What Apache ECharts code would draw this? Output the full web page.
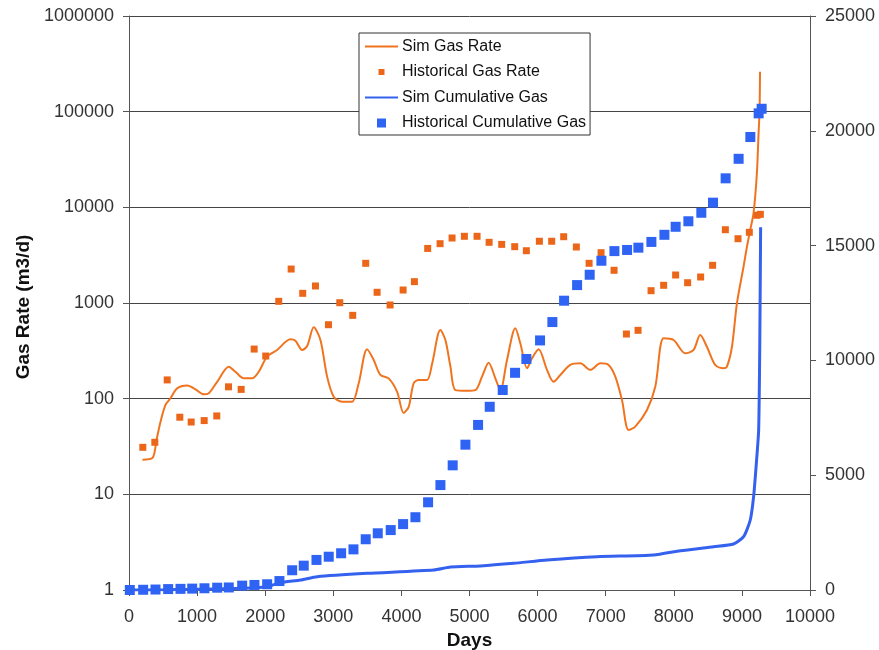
<!DOCTYPE html>
<html>
<head>
<meta charset="utf-8">
<script src="https://cdn.jsdelivr.net/npm/echarts@6/dist/echarts.min.js"></script>
<style>
  html, body { margin: 0; padding: 0; background: #fff; }
  #chart { width: 879px; height: 650px; }
</style>
</head>
<body>
<div id="chart"></div>
<script>
// Simulated gas rate (m3/d) vs days
const simRateDays = [198, 345, 404, 462, 536, 609, 707, 854, 976, 1098, 1171, 1295, 1465, 1563, 1685, 1808, 1905, 2028, 2175, 2370, 2444, 2542, 2616, 2713, 2811, 2909, 3006, 3129, 3276, 3373, 3496, 3593, 3691, 3813, 3937, 4033, 4107, 4180, 4254, 4377, 4450, 4572, 4646, 4720, 4793, 4964, 5086, 5184, 5281, 5380, 5453, 5551, 5673, 5746, 5845, 5918, 6015, 6138, 6235, 6333, 6480, 6627, 6774, 6921, 7042, 7141, 7239, 7336, 7434, 7606, 7728, 7850, 7997, 8168, 8290, 8388, 8486, 8608, 8730, 8780, 8854, 8927, 9024, 9074, 9122, 9171, 9220, 9245, 9259, 9266];
const simRate = [23, 24, 37, 57, 86, 101, 128, 137, 125, 111, 114, 150, 216, 191, 163, 163, 191, 275, 323, 417, 403, 323, 355, 557, 410, 170, 105, 93, 93, 145, 328, 254, 177, 163, 118, 71, 82, 145, 157, 157, 230, 522, 410, 216, 123, 121, 123, 170, 238, 163, 123, 254, 544, 379, 208, 264, 328, 200, 150, 177, 225, 234, 200, 234, 225, 170, 97, 47, 51, 76, 133, 428, 410, 298, 323, 463, 349, 225, 208, 216, 349, 993, 2394, 3870, 5800, 8700, 22700, 60000, 100000, 262000];

// Historical gas rate (m3/d)
const histRateDays = [203, 379, 561, 746, 913, 1104, 1289, 1461, 1647, 1838, 2008, 2199, 2381, 2551, 2738, 2929, 3095, 3285, 3476, 3643, 3834, 4025, 4191, 4386, 4568, 4744, 4925, 5111, 5288, 5473, 5664, 5835, 6026, 6207, 6383, 6569, 6756, 6932, 7123, 7304, 7475, 7666, 7851, 8027, 8203, 8394, 8570, 8757, 8943, 9109, 9222, 9271];
const histRate = [31, 35, 157, 64, 57, 59, 66, 133, 125, 330, 279, 1041, 2264, 1262, 1506, 593, 1007, 743, 2600, 1294, 953, 1367, 1671, 3718, 4170, 4780, 4980, 4980, 4310, 4100, 3880, 3520, 4420, 4420, 4930, 3850, 2600, 3357, 2197, 474, 518, 1345, 1531, 1962, 1630, 1870, 2478, 5835, 4700, 5480, 8260, 8450];

// Simulated cumulative gas (right axis)
const simCumDays = [0, 500, 1000, 1500, 2000, 2224, 2518, 2763, 3497, 4475, 4720, 5160, 5649, 6139, 6873, 7704, 8096, 8585, 8878, 9025, 9123, 9172, 9212, 9246, 9262, 9275];
const simCum = [0, 10, 30, 60, 130, 318, 435, 579, 727, 871, 1000, 1050, 1163, 1307, 1450, 1524, 1712, 1886, 2003, 2321, 3049, 4063, 5518, 6968, 10500, 15800];

// Historical cumulative gas (right axis)
const histCumDays = [12, 208, 389, 575, 756, 928, 1108, 1295, 1465, 1662, 1842, 2029, 2209, 2396, 2566, 2753, 2933, 3115, 3296, 3476, 3653, 3843, 4025, 4206, 4392, 4573, 4753, 4940, 5126, 5297, 5488, 5669, 5835, 6036, 6217, 6389, 6580, 6765, 6937, 7128, 7314, 7480, 7671, 7862, 8027, 8214, 8404, 8576, 8761, 8952, 9124, 9246, 9290];
const histCum = [0, 10, 20, 40, 50, 60, 75, 100, 110, 190, 220, 250, 390, 860, 1060, 1310, 1450, 1600, 1770, 2210, 2470, 2610, 2870, 3170, 3820, 4570, 5430, 6330, 7190, 7980, 8710, 9460, 10060, 10870, 11670, 12600, 13280, 13730, 14340, 14760, 14810, 14910, 15160, 15470, 15820, 16060, 16430, 16870, 17930, 18780, 19730, 20760, 20960];

const seriesNames = ['Sim Gas Rate', 'Historical Gas Rate', 'Sim Cumulative Gas', 'Historical Cumulative Gas'];

const FONT = "'Liberation Sans', Arial, sans-serif";
const ORANGE_LINE = '#F0741F';
const ORANGE_PT = '#EC661A';
const BLUE_LINE = '#3461EE';
const BLUE_PT = '#2F63F4';

// Legend glyphs: a 33x10 box holding a plain stroke or a centred square
const ICON_LINE = 'path://M0,0M0,4H33V6H0ZM33,10';
const ICON_SMALL_SQUARE = 'path://M0,0M13.5,2H19.5V8H13.5ZM33,10';
const ICON_BIG_SQUARE = 'path://M0,0M12,0.5H21V9.5H12ZM33,10';

const pairs = (xs, ys) => xs.map((x, i) => [x, ys[i]]);
const plain = v => String(Math.round(v));

const chart = echarts.init(document.getElementById('chart'), null, { renderer: 'canvas' });

chart.setOption({
  backgroundColor: '#ffffff',
  animation: false,
  textStyle: { fontFamily: FONT },
  grid: { left: 129, right: 69, top: 16, bottom: 60, containLabel: false, outerBoundsMode: 'none' },
  legend: {
    orient: 'vertical',
    left: 359,
    top: 33,
    padding: [4.5, 4, 3, 6],
    itemWidth: 33,
    itemHeight: 10,
    itemGap: 7.5,
    borderColor: '#333',
    borderWidth: 1,
    backgroundColor: '#fff',
    selectedMode: false,
    symbolKeepAspect: true,
    textStyle: { fontSize: 16, color: '#111', fontFamily: FONT, lineHeight: 18, padding: [0, 0, 0, -1] },
    data: [
      { name: seriesNames[0], icon: ICON_LINE },
      { name: seriesNames[1], icon: ICON_SMALL_SQUARE },
      { name: seriesNames[2], icon: ICON_LINE },
      { name: seriesNames[3], icon: ICON_BIG_SQUARE }
    ]
  },
  xAxis: {
    type: 'value',
    min: 0,
    max: 10000,
    interval: 1000,
    name: 'Days',
    nameLocation: 'middle',
    nameGap: 37,
    nameTextStyle: { fontSize: 19, fontWeight: 'bold', color: '#111', fontFamily: FONT },
    axisLine: { show: true, lineStyle: { color: '#555', width: 1 } },
    axisTick: { show: true, inside: false, length: 6, lineStyle: { color: '#555' } },
    axisLabel: { fontSize: 18, color: '#333', margin: 18, formatter: plain },
    splitLine: { show: false }
  },
  yAxis: [
    {
      type: 'log',
      logBase: 10,
      min: 1,
      max: 1000000,
      name: 'Gas Rate (m3/d)',
      nameLocation: 'middle',
      nameRotate: 90,
      nameGap: 96,
      nameTextStyle: { fontSize: 19, fontWeight: 'bold', color: '#111', fontFamily: FONT, padding: [0, 8, 0, 0] },
      axisLine: { show: true, lineStyle: { color: '#555', width: 1 } },
      axisTick: { show: true, inside: false, length: 6, lineStyle: { color: '#555' } },
      axisLabel: { fontSize: 18, color: '#333', margin: 15, formatter: plain },
      splitLine: { show: true, lineStyle: { color: '#444', width: 1 } },
      minorTick: { show: false },
      minorSplitLine: { show: false }
    },
    {
      type: 'value',
      min: 0,
      max: 25000,
      interval: 5000,
      position: 'right',
      axisLine: { show: true, lineStyle: { color: '#555', width: 1 } },
      axisTick: { show: true, inside: false, length: 6, lineStyle: { color: '#555' } },
      axisLabel: { fontSize: 18, color: '#333', margin: 15, formatter: plain },
      splitLine: { show: false }
    }
  ],
  series: [
    {
      name: seriesNames[0],
      type: 'line',
      yAxisIndex: 0,
      data: pairs(simRateDays, simRate),
      smooth: 0.3,
      symbol: 'none',
      lineStyle: { color: ORANGE_LINE, width: 2 },
      itemStyle: { color: ORANGE_LINE },
      z: 2
    },
    {
      name: seriesNames[1],
      type: 'scatter',
      yAxisIndex: 0,
      data: pairs(histRateDays, histRate),
      symbol: 'rect',
      symbolSize: 7,
      itemStyle: { color: ORANGE_PT, opacity: 1 },
      z: 3
    },
    {
      name: seriesNames[2],
      type: 'line',
      yAxisIndex: 1,
      data: pairs(simCumDays, simCum),
      smooth: 0.2,
      symbol: 'none',
      lineStyle: { color: BLUE_LINE, width: 3 },
      itemStyle: { color: BLUE_LINE },
      z: 4
    },
    {
      name: seriesNames[3],
      type: 'scatter',
      yAxisIndex: 1,
      data: pairs(histCumDays, histCum),
      symbol: 'rect',
      symbolSize: 10,
      itemStyle: { color: BLUE_PT, opacity: 1 },
      z: 5
    }
  ]
});
</script>
</body>
</html>
